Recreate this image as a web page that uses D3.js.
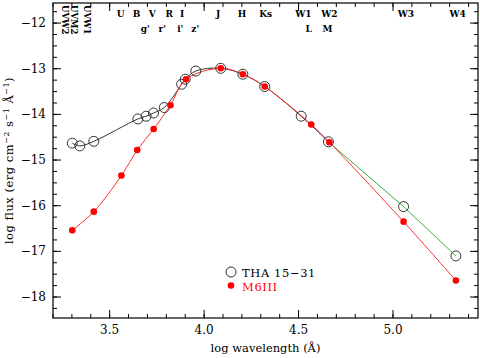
<!DOCTYPE html>
<html>
<head>
<meta charset="utf-8">
<script src="https://cdn.jsdelivr.net/npm/d3@7"></script>
<style>
  body { margin: 0; background: #fff; }
  svg text { font-family: "DejaVu Serif", serif; fill: #000; }
</style>
</head>
<body>
<svg id="sed" width="480" height="358"></svg>
<script>
// THA 15-31 photometry (log wavelength, log flux)
var thaWave = [3.302, 3.342, 3.416, 3.649, 3.693, 3.732, 3.789, 3.881, 3.900, 3.956, 4.088, 4.205, 4.321, 4.514, 4.658, 5.056, 5.333];
var thaFlux = [-14.63, -14.69, -14.59, -14.10, -14.04, -13.97, -13.85, -13.34, -13.23, -13.05, -12.99, -13.12, -13.39, -14.04, -14.60, -16.02, -17.10];
// M6III template
var m6Wave = [3.302, 3.416, 3.562, 3.646, 3.733, 3.822, 3.904, 4.088, 4.205, 4.321, 4.567, 4.663, 5.056, 5.333];
var m6Flux = [-16.54, -16.13, -15.34, -14.78, -14.32, -13.80, -13.23, -12.99, -13.12, -13.39, -14.22, -14.61, -16.35, -17.64];
// band labels along the top
var bandRow1 = ["U", "B", "V", "R", "I", "J", "H", "Ks", "W1", "W2", "W3", "W4"];
var bandRow1Pos = [3.558, 3.642, 3.726, 3.816, 3.884, 4.074, 4.200, 4.326, 4.526, 4.663, 5.068, 5.342];
var bandRow2 = ["g'", "r'", "i'", "z'", "L", "M"];
var bandRow2Pos = [3.689, 3.779, 3.874, 3.953, 4.553, 4.653];
var uvBands = ["UVW2", "UVM2", "UVW1"];
var uvBandPos = [3.263, 3.311, 3.379];
var xTicks = [3.5, 4.0, 4.5, 5.0];
var yTicks = [-12, -13, -14, -15, -16, -17, -18];

var svg = d3.select("#sed"),
    margin = {top: 3, right: 2, bottom: 40, left: 53},
    width = +svg.attr("width") - margin.left - margin.right,
    height = +svg.attr("height") - margin.top - margin.bottom;

var x = d3.scaleLinear().domain([3.2, 5.45]).range([0, width]),
    y = d3.scaleLinear().domain([-18.46, -11.56]).range([height, 0]);

var g = svg.append("g")
    .attr("transform", "translate(" + margin.left + "," + margin.top + ")");

// ticks on all four sides, pointing inward
var xMinor = d3.range(3.2, 5.451, 0.1),
    yMinor = d3.range(-18.25, -11.5, 0.25);

function tickSet(sel, vals, len, horiz, atEnd) {
  sel.selectAll(null).data(vals).enter().append("line")
    .attr("x1", function(d) { return horiz ? x(d) : (atEnd ? width : 0); })
    .attr("x2", function(d) { return horiz ? x(d) : (atEnd ? width - len : len); })
    .attr("y1", function(d) { return horiz ? (atEnd ? 0 : height) : y(d); })
    .attr("y2", function(d) { return horiz ? (atEnd ? len : height - len) : y(d); })
    .attr("stroke", "#000").attr("stroke-width", 1);
}
var ticks = g.append("g").attr("class", "ticks");
tickSet(ticks, xMinor, 4, true, false);
tickSet(ticks, xMinor, 4, true, true);
tickSet(ticks, xTicks, 8, true, false);
tickSet(ticks, xTicks, 8, true, true);
tickSet(ticks, yMinor, 4, false, false);
tickSet(ticks, yMinor, 4, false, true);
tickSet(ticks, yTicks, 8, false, false);
tickSet(ticks, yTicks, 8, false, true);

g.append("rect")
    .attr("width", width).attr("height", height)
    .attr("fill", "none").attr("stroke", "#000").attr("stroke-width", 1.2);

// tick labels
g.selectAll(".xlab").data(xTicks).enter().append("text")
    .attr("class", "xlab")
    .attr("x", function(d) { return x(d); })
    .attr("y", height + 16)
    .attr("text-anchor", "middle")
    .style("font-size", "12px")
    .text(function(d) { return d.toFixed(1); });

g.selectAll(".ylab").data(yTicks).enter().append("text")
    .attr("class", "ylab")
    .attr("x", -7)
    .attr("y", function(d) { return y(d) + 4; })
    .attr("text-anchor", "end")
    .style("font-size", "12px")
    .text(function(d) { return "\u2212" + Math.abs(d); });

// axis titles
svg.append("text")
    .attr("x", margin.left + width / 2)
    .attr("y", 352)
    .attr("text-anchor", "middle")
    .style("font-size", "11.5px")
    .text("log wavelength (\u00c5)");

var ylab = svg.append("text")
    .attr("transform", "translate(13," + (margin.top + height / 2) + ") rotate(-90)")
    .attr("text-anchor", "middle")
    .style("font-size", "11.5px")
    .style("letter-spacing", "0.5px");
ylab.append("tspan").text("log flux (erg cm");
ylab.append("tspan").attr("dy", -4).style("font-size", "8px").text("\u22122");
ylab.append("tspan").attr("dy", 4).text(" s");
ylab.append("tspan").attr("dy", -4).style("font-size", "8px").text("\u22121");
ylab.append("tspan").attr("dy", 4).text(" \u00c5");
ylab.append("tspan").attr("dy", -4).style("font-size", "8px").text("\u22121");
ylab.append("tspan").attr("dy", 4).text(")");

// band labels
g.selectAll(".b1").data(bandRow1).enter().append("text")
    .attr("x", function(d, i) { return x(bandRow1Pos[i]); })
    .attr("y", 14)
    .attr("text-anchor", "middle")
    .style("font-size", "9px").style("font-weight", "bold")
    .text(function(d) { return d; });

g.selectAll(".b2").data(bandRow2).enter().append("text")
    .attr("x", function(d, i) { return x(bandRow2Pos[i]); })
    .attr("y", 29)
    .attr("text-anchor", "middle")
    .style("font-size", "9px").style("font-weight", "bold")
    .text(function(d) { return d; });

g.selectAll(".buv").data(uvBands).enter().append("text")
    .attr("transform", function(d, i) { return "translate(" + x(uvBandPos[i]) + ",2) rotate(90)"; })
    .attr("dy", "0.35em")
    .style("font-size", "8.5px").style("font-weight", "bold")
    .text(function(d) { return d; });

// curves
var tha = thaWave.map(function(d, i) { return [d, thaFlux[i]]; }),
    m6 = m6Wave.map(function(d, i) { return [d, m6Flux[i]]; });

var line = d3.line()
    .x(function(d) { return x(d[0]); })
    .y(function(d) { return y(d[1]); })
    .curve(d3.curveCatmullRom);

g.append("path").datum(tha.slice(0, 15))
    .attr("d", line).attr("fill", "none")
    .attr("stroke", "#333").attr("stroke-width", 1);
g.append("path").datum(tha.slice(14))
    .attr("d", line.curve(d3.curveLinear)).attr("fill", "none")
    .attr("stroke", "#3cb03c").attr("stroke-width", 1);
g.append("path").datum(m6)
    .attr("d", line.curve(d3.curveCatmullRom)).attr("fill", "none")
    .attr("stroke", "#ff3030").attr("stroke-width", 1);

// markers
g.selectAll(".tha").data(tha).enter().append("circle")
    .attr("cx", function(d) { return x(d[0]); })
    .attr("cy", function(d) { return y(d[1]); })
    .attr("r", 5).attr("fill", "none")
    .attr("stroke", "#333").attr("stroke-width", 1);

g.selectAll(".m6").data(m6).enter().append("circle")
    .attr("cx", function(d) { return x(d[0]); })
    .attr("cy", function(d) { return y(d[1]); })
    .attr("r", 3.3).attr("fill", "#ff0000");

// legend
var leg = svg.append("g").attr("transform", "translate(231,272)");
leg.append("circle").attr("r", 5).attr("fill", "none").attr("stroke", "#333");
leg.append("text").attr("x", 11).attr("y", 4.5)
    .style("font-size", "11.5px").style("letter-spacing", "0.6px")
    .text("THA 15\u221231");
leg.append("circle").attr("cy", 13.5).attr("r", 3.3).attr("fill", "#ff0000");
leg.append("text").attr("x", 11).attr("y", 18.5)
    .style("font-size", "11.5px").style("letter-spacing", "0.6px")
    .style("fill", "#ff0000")
    .text("M6III");
</script>
</body>
</html>
